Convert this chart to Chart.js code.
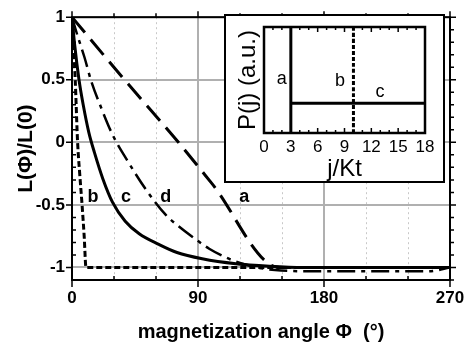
<!DOCTYPE html>
<html>
<head>
<meta charset="utf-8">
<script src="https://cdn.jsdelivr.net/npm/chart.js@4.4.1/dist/chart.umd.min.js"></script>
<style>
  html, body { margin: 0; padding: 0; background: #fff; }
  #wrap { position: relative; width: 473px; height: 353px; }
  #main { position: absolute; left: 0; top: 0; }
  #inset { position: absolute; left: 224px; top: 14px; }
</style>
</head>
<body>
<div id="wrap">
  <canvas id="main" width="473" height="353"></canvas>
  <canvas id="inset" width="221" height="169"></canvas>
</div>
<script>
// ── Données : L(Φ)/L(0) en fonction de l'angle ─────────────────────────────
var angA   = [0, 37.5, 76, 100, 148, 270];
var curveA = [1, 0.5, 0, -0.33, -1, -1];

var angB   = [0, 1, 2.3, 4, 5.5, 7.2, 8.7, 10, 270];
var curveB = [1, 0.8, 0.5, 0, -0.25, -0.5, -0.75, -1, -1];

var angC   = [0, 2, 5, 8, 12, 16, 22, 29, 38, 48, 62, 75, 93, 117, 141, 165, 270];
var curveC = [1, 0.77, 0.5, 0.3, 0.08, -0.08, -0.29, -0.48, -0.63, -0.73, -0.815, -0.88, -0.93, -0.97, -0.99, -1, -1];

var angD   = [0, 4, 8.9, 13.7, 20, 29, 38.7, 53, 67, 75, 89, 98, 112, 125, 132, 145, 165, 255, 270];
var curveD = [1, 0.85, 0.68, 0.49, 0.3, 0.06, -0.13, -0.38, -0.58, -0.66, -0.78, -0.85, -0.93, -0.98, -1, -1.02, -1.03, -1.03, -1];

var angTicks    = [0, 30, 60, 90, 120, 150, 180, 210, 240, 270];
var angLabels   = [0, 90, 180, 270];
var ratioTicks  = [-1, -0.5, 0, 0.5, 1];
var ratioMinor  = [-1.1, -0.9, -0.8, -0.7, -0.6, -0.4, -0.3, -0.2, -0.1, 0.1, 0.2, 0.3, 0.4, 0.6, 0.7, 0.8, 0.9];

var curveNames  = ['a', 'b', 'c', 'd'];
var curveNameX  = [123, 15, 38.5, 67];
var curveNameY  = [-0.48, -0.48, -0.48, -0.48];

// ── Données : encart P(j) ──────────────────────────────────────────────────
var jA = [3, 3];     var pA = [0, 1];
var jB = [10, 10];   var pB = [0, 1];
var jC = [3, 18];    var pC = [0.28, 0.28];
var jTicks  = [0, 3, 6, 9, 12, 15, 18];
var jMinor  = [1, 2, 4, 5, 7, 8, 10, 11, 13, 14, 16, 17];
var insetNames = ['a', 'b', 'c'];
var insetNameX = [1.98, 8.5, 12.97];
var insetNameY = [0.46, 0.44, 0.34];

var FONT = '"Liberation Sans", Arial, sans-serif';

function pts(xs, ys) {
    return xs.map(function (x, i) { return { x: x, y: ys[i] }; });
}

function line(data, width, dash) {
    return {
        data: data,
        borderColor: '#000',
        borderWidth: width,
        borderDash: dash,
        pointRadius: 0,
        fill: false,
        cubicInterpolationMode: 'monotone'
    };
}

// petit trait de graduation sur un bord du cadre
function tick(ctx, area, scale, v, side, len) {
    var p = scale.getPixelForValue(v);
    if (side === 'bottom') { ctx.moveTo(p, area.bottom); ctx.lineTo(p, area.bottom + len); }
    if (side === 'top')    { ctx.moveTo(p, area.top);    ctx.lineTo(p, area.top - len); }
    if (side === 'left')   { ctx.moveTo(area.left, p);   ctx.lineTo(area.left - len, p); }
    if (side === 'right')  { ctx.moveTo(area.right, p);  ctx.lineTo(area.right + len, p); }
}

// cadre, graduations (len > 0 : vers l'extérieur) et lettres des courbes
var framePlugin = {
    id: 'frameTicks',
    beforeDraw: function (chart, args, opts) {
        var ctx = chart.ctx;
        ctx.save();
        ctx.fillStyle = '#fff';
        ctx.fillRect(0, 0, chart.width, chart.height);
        ctx.restore();
    },
    afterDatasetsDraw: function (chart, args, opts) {
        var ctx = chart.ctx, a = chart.chartArea;
        var xs = chart.scales.x, ys = chart.scales.y;
        ctx.save();
        ctx.strokeStyle = '#000';
        ctx.lineWidth = 1.5;
        ctx.beginPath();
        opts.marks.forEach(function (m) {
            var s = (m.side === 'top' || m.side === 'bottom') ? xs : ys;
            m.values.forEach(function (v) { tick(ctx, a, s, v, m.side, m.len); });
        });
        ctx.stroke();

        ctx.lineWidth = opts.frameWidth;
        ctx.strokeRect(a.left, a.top, a.right - a.left, a.bottom - a.top);
        if (opts.outer) {
            ctx.lineWidth = 2;
            ctx.strokeRect(1, 1, chart.width - 2, chart.height - 2);
        }

        ctx.fillStyle = '#000';
        ctx.font = opts.labelFont;
        ctx.textAlign = 'center';
        ctx.textBaseline = 'alphabetic';
        opts.names.forEach(function (t, i) {
            ctx.fillText(t, xs.getPixelForValue(opts.nameX[i]), ys.getPixelForValue(opts.nameY[i]));
        });
        ctx.restore();
    }
};

// ── Graphique principal ────────────────────────────────────────────────────
new Chart(document.getElementById('main'), {
    type: 'line',
    data: {
        datasets: [
            line(pts(angA, curveA), 3, [20, 9]),
            line(pts(angB, curveB), 3, [6, 3]),
            line(pts(angC, curveC), 3, []),
            line(pts(angD, curveD), 2.5, [18, 6, 4, 6])
        ]
    },
    options: {
        responsive: false,
        animation: false,
        events: [],
        layout: { padding: { left: 0, right: 23, top: 11, bottom: 0 } },
        plugins: {
            legend: { display: false },
            tooltip: { enabled: false },
            frameTicks: {
                outer: false,
                frameWidth: 2,
                labelFont: 'bold 18px ' + FONT,
                names: curveNames, nameX: curveNameX, nameY: curveNameY,
                marks: [
                    { side: 'bottom', values: angLabels, len: 7 },
                    { side: 'bottom', values: [30, 60, 120, 150, 210, 240], len: -4 },
                    { side: 'top', values: angLabels, len: 6 },
                    { side: 'top', values: [30, 60, 120, 150, 210, 240], len: 4 },
                    { side: 'left', values: ratioTicks, len: 6 },
                    { side: 'left', values: ratioMinor, len: -4 },
                    { side: 'right', values: ratioTicks, len: 6 },
                    { side: 'right', values: ratioMinor, len: 4 }
                ]
            }
        },
        scales: {
            x: {
                type: 'linear',
                min: 0,
                max: 270,
                afterBuildTicks: function (s) {
                    s.ticks = angTicks.map(function (v) { return { value: v }; });
                },
                afterFit: function (s) { s.height = 73; },
                ticks: {
                    autoSkip: false,
                    maxRotation: 0,
                    padding: 8,
                    color: '#000',
                    font: { family: FONT, size: 17, weight: 'bold' },
                    callback: function (v) { return angLabels.indexOf(v) >= 0 ? String(v) : ''; }
                },
                grid: {
                    drawTicks: false,
                    color: function (c) { return c.tick && c.tick.value % 90 ? '#c8c8c8' : '#b0b0b0'; },
                    lineWidth: function (c) { return c.tick && c.tick.value % 90 ? 1 : 2; }
                },
                border: {
                    display: false,
                    dash: function (c) { return c.tick && c.tick.value % 90 ? [2, 3] : []; }
                },
                title: {
                    display: true,
                    text: 'magnetization angle Φ  (°)',
                    color: '#000',
                    font: { family: FONT, size: 20, weight: 'bold' },
                    padding: { top: 0, bottom: 9 }
                }
            },
            y: {
                min: -1.1,
                max: 1,
                afterBuildTicks: function (s) {
                    s.ticks = ratioTicks.map(function (v) { return { value: v }; });
                },
                afterFit: function (s) { s.width = 72; },
                ticks: {
                    padding: 7,
                    color: '#000',
                    font: { family: FONT, size: 17, weight: 'bold' },
                    callback: function (v) { return String(v); }
                },
                grid: { drawTicks: false, color: '#b0b0b0', lineWidth: 2 },
                border: { display: false },
                title: {
                    display: true,
                    text: 'L(Φ)/L(0)',
                    color: '#000',
                    font: { family: FONT, size: 21, weight: 'bold' },
                    padding: { top: 14, bottom: 0 }
                }
            }
        }
    },
    plugins: [framePlugin]
});

// ── Encart : distribution P(j) ─────────────────────────────────────────────
new Chart(document.getElementById('inset'), {
    type: 'line',
    data: {
        datasets: [
            line(pts(jA, pA), 3, []),
            line(pts(jB, pB), 3, [4, 2]),
            line(pts(jC, pC), 3, [])
        ]
    },
    options: {
        responsive: false,
        animation: false,
        events: [],
        layout: { padding: { left: 0, right: 20, top: 13, bottom: 0 } },
        plugins: {
            legend: { display: false },
            tooltip: { enabled: false },
            frameTicks: {
                outer: true,
                frameWidth: 2.5,
                labelFont: '18px ' + FONT,
                names: insetNames, nameX: insetNameX, nameY: insetNameY,
                marks: [
                    { side: 'bottom', values: jTicks, len: -5 },
                    { side: 'bottom', values: jMinor, len: -3 },
                    { side: 'top', values: jTicks, len: -5 },
                    { side: 'top', values: jMinor, len: -3 }
                ]
            }
        },
        scales: {
            x: {
                type: 'linear',
                min: 0,
                max: 18,
                afterBuildTicks: function (s) {
                    s.ticks = jTicks.map(function (v) { return { value: v }; });
                },
                afterFit: function (s) { s.height = 50; },
                ticks: {
                    autoSkip: false,
                    maxRotation: 0,
                    padding: 4,
                    color: '#000',
                    font: { family: FONT, size: 17 }
                },
                grid: { display: false, drawTicks: false },
                border: { display: false },
                title: {
                    display: true,
                    text: 'j/Kt',
                    color: '#000',
                    font: { family: FONT, size: 24, lineHeight: 1.1 },
                    padding: { top: 0, bottom: 0 }
                }
            },
            y: {
                min: 0,
                max: 1,
                afterFit: function (s) { s.width = 40; },
                ticks: { display: false },
                grid: { display: false, drawTicks: false },
                border: { display: false },
                title: {
                    display: true,
                    text: 'P(j) (a.u.)',
                    color: '#000',
                    font: { family: FONT, size: 24 },
                    padding: { top: 10, bottom: 0 }
                }
            }
        }
    },
    plugins: [framePlugin]
});
</script>
</body>
</html>
